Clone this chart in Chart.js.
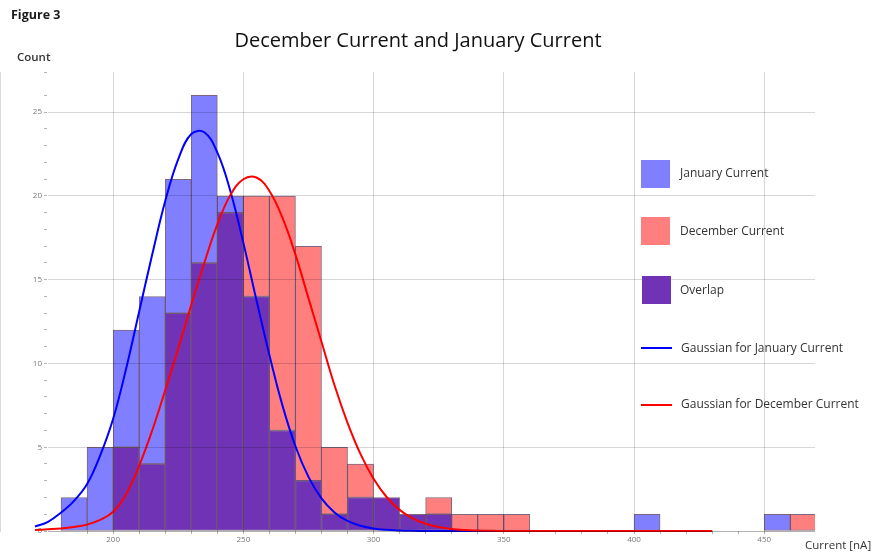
<!DOCTYPE html>
<html>
<head>
<meta charset="utf-8">
<script src="https://cdn.jsdelivr.net/npm/chart.js@4"></script>
<style>
body{margin:0;background:#fff;font-family:"Open Sans",sans-serif;}
#wrap{position:relative;width:875px;height:552px;overflow:hidden;}
#histChart{position:absolute;left:0;top:0;}
.txt{position:absolute;white-space:nowrap;line-height:1;color:#1a1a1a;}
.sw{position:absolute;width:29px;height:28px;}
.ln{position:absolute;width:31px;height:2px;}
</style>
</head>
<body>
<div id="wrap">
<canvas id="histChart" width="875" height="552"></canvas>
<div class="txt" style="left:11px;top:9px;font-size:12.5px;font-weight:700;">Figure 3</div>
<div class="txt" style="left:418px;top:30px;font-size:20px;transform:translateX(-50%);color:#111;">December Current and January Current</div>
<div class="txt" style="left:17px;top:51px;font-size:11.5px;font-weight:600;color:#333;">Count</div>
<div class="txt" style="left:805px;top:539px;font-size:11.5px;color:#333;">Current [nA]</div>

<div class="sw" style="left:641px;top:160px;background:#7f7fff;"></div>
<div class="txt" style="left:680px;top:167px;font-size:12px;color:#333;">January Current</div>
<div class="sw" style="left:641px;top:217px;background:#ff7f7f;"></div>
<div class="txt" style="left:680px;top:225px;font-size:12px;color:#333;">December Current</div>
<div class="sw" style="left:642px;top:276px;background:#7033b6;"></div>
<div class="txt" style="left:680px;top:284px;font-size:12px;color:#333;">Overlap</div>
<div class="ln" style="left:641px;top:347px;background:#0000ff;"></div>
<div class="txt" style="left:681px;top:342px;font-size:12px;color:#333;">Gaussian for January Current</div>
<div class="ln" style="left:641px;top:404px;background:#ff0000;"></div>
<div class="txt" style="left:681px;top:398px;font-size:12px;color:#333;">Gaussian for December Current</div>
</div>

<script>
// histogram bins (left edge, width 10 nA)
const binWidth = 10;
const bins = [180,190,200,210,220,230,240,250,260,270,280,290,300,310,320,330,340,350,400,450,460];
const january = [2,5,12,14,21,26,20,14,6,3,1,2,2,1,1,0,0,0,1,1,0];
const december = [0,0,5,4,13,16,19,20,20,17,5,4,2,1,2,1,1,1,0,0,1];

// gaussian curves
const gaussX = [170,175,180,185,190,195,200,205,210,215,220,225,230,235,240,245,250,255,260,265,270,275,280,285,290,295,300,305,310,315,320,325,330,335,340,345,350,355,360,365,370,375,380,385,390,395,400,405,410,415,420,425,430];
const gaussJan = [0.27,0.55,1.1,1.8,2.8,4.5,6.7,9.7,13.1,16.5,19.7,22.2,23.7,23.8,22.6,20.3,17.2,13.8,10.5,7.5,5.06,3.23,1.95,1.11,0.6,0.31,0.15,0.07,0.03,0.01,0,0,0,0,0,0,0,0,0,0,0,0,0,0,0,0,0,0,0,0,0,0,0];
const gaussDec = [0.06,0.1,0.15,0.24,0.38,0.66,1.15,2.2,3.9,6.0,8.4,10.9,13.5,16.0,18.3,20.05,21.0,21.1,20.3,18.7,16.5,13.9,11.3,8.7,6.46,4.59,3.12,2.03,1.26,0.75,0.43,0.24,0.12,0.06,0.03,0.01,0,0,0,0,0,0,0,0,0,0,0,0,0,0,0,0,0];

// axis ranges and tick labels
const xMin = 174.6, xMax = 469.5;
const yMin = 0, yMax = 27.4;
const xLabels = [200,250,300,350,400,450];
const yLabels = [0,5,10,15,20,25];

const overlapBars = [], janBars = [], decBars = [];
bins.forEach((b, i) => {
    const lo = Math.min(january[i], december[i]);
    const x = b + binWidth / 2;
    if (lo > 0) overlapBars.push({x: x, y: [0, lo]});
    if (january[i] > lo) janBars.push({x: x, y: [lo, january[i]]});
    if (december[i] > lo) decBars.push({x: x, y: [lo, december[i]]});
});

const barStyle = {
    type: "bar",
    grouped: false,
    barPercentage: 1,
    categoryPercentage: 1,
    borderWidth: 1,
    borderSkipped: false,
    borderColor: "rgba(40,0,40,0.6)",
    order: 2
};

const lineStyle = {
    type: "line",
    pointRadius: 0,
    borderWidth: 2,
    fill: false,
    tension: 0.4,
    clip: {left: 14, top: 4, right: 4, bottom: 4}
};

const gridColor = "rgba(0,0,0,0.16)";

new Chart(document.getElementById("histChart"), {
    data: {
        datasets: [
            Object.assign({}, barStyle, {label: "Overlap", data: overlapBars, backgroundColor: "#7033b6"}),
            Object.assign({}, barStyle, {label: "January Current", data: janBars, backgroundColor: "#7f7fff"}),
            Object.assign({}, barStyle, {label: "December Current", data: decBars, backgroundColor: "#ff7f7f"}),
            Object.assign({}, lineStyle, {label: "Gaussian for January Current", borderColor: "#0000ff", order: 0,
                data: gaussX.map((x, i) => ({x: x, y: gaussJan[i]}))}),
            Object.assign({}, lineStyle, {label: "Gaussian for December Current", borderColor: "#ff0000", order: -1,
                data: gaussX.map((x, i) => ({x: x, y: gaussDec[i]}))})
        ]
    },
    options: {
        responsive: false,
        animation: false,
        devicePixelRatio: 1,
        layout: {padding: {left: 0, top: 72, right: 60, bottom: 0}},
        plugins: {legend: {display: false}, tooltip: {enabled: false}},
        scales: {
            x: {
                type: "linear",
                offset: false,
                min: xMin,
                max: xMax,
                afterBuildTicks: s => { s.ticks = s.ticks.filter(t => t.value % 10 === 0); },
                afterFit: s => { s.height = 21; s.paddingLeft = 0; s.paddingRight = 0; },
                ticks: {
                    stepSize: 10,
                    autoSkip: false,
                    maxRotation: 0,
                    padding: 1,
                    color: "#777",
                    font: {size: 8, family: "Open Sans"},
                    callback: v => xLabels.includes(v) ? String(v) : ""
                },
                grid: {
                    z: 1,
                    offset: false,
                    tickLength: 3,
                    tickColor: "rgba(0,0,0,0.3)",
                    color: c => (c.tick && xLabels.includes(c.tick.value)) ? gridColor : "rgba(0,0,0,0)"
                },
                border: {display: false}
            },
            y: {
                min: yMin,
                max: yMax,
                afterFit: s => { s.width = 47; s.paddingTop = 0; s.paddingBottom = 0; },
                ticks: {
                    stepSize: 1,
                    autoSkip: false,
                    padding: 2,
                    color: "#777",
                    font: {size: 8, family: "Open Sans"},
                    callback: v => yLabels.includes(v) ? String(v) : ""
                },
                grid: {
                    z: 1,
                    tickLength: 3,
                    tickColor: "rgba(0,0,0,0.3)",
                    color: c => (c.tick && c.tick.value < 1e-9) ? "rgba(0,0,0,0.3)" :
                        ((c.tick && yLabels.includes(c.tick.value)) ? gridColor : "rgba(0,0,0,0)")
                },
                border: {color: "rgba(0,0,0,0.3)"}
            }
        }
    }
});
</script>
</body>
</html>
